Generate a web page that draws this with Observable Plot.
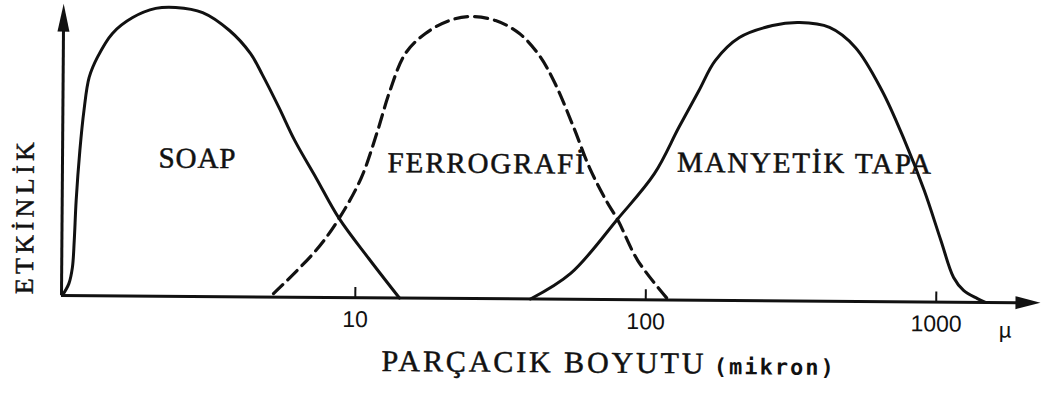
<!DOCTYPE html>
<html><head><meta charset="utf-8">
<script src="https://cdn.jsdelivr.net/npm/d3@7"></script>
<script src="https://cdn.jsdelivr.net/npm/@observablehq/plot@0.6"></script>
<style>html,body{margin:0;padding:0;background:#fff;overflow:hidden;}</style>
</head><body><div id="chart"></div>
<script>
// Particle size (micron, log scale) vs. effectiveness (%)
const soapX = [0.98, 1.032, 1.060, 1.074, 1.088, 1.117, 1.151, 1.197, 1.276, 1.436, 1.684, 2.020, 2.367, 2.932, 3.632, 4.298, 4.718, 5.397, 6.128, 7.295, 8.755, 11.10, 14.19];
const soapY = [0, 4.1, 9.6, 18.9, 32.7, 49.9, 63.6, 75.0, 81.9, 90.2, 95.7, 98.9, 99.3, 97.6, 91.5, 83.6, 76.5, 65.2, 53.9, 40.9, 27.2, 13.5, 0];

const ferroX = [5.228, 7.295, 8.755, 10.42, 11.74, 13.01, 14.65, 17.17, 20.77, 24.53, 29.91, 36.17, 42.39, 48.12, 55.94, 63.51, 72.67, 79.91, 93.66, 119.7];
const ferroY = [1.2, 16.1, 27.2, 41.3, 56.5, 71.3, 84.0, 91.0, 95.5, 96.9, 95.6, 91.2, 83.7, 74.1, 59.0, 45.3, 34.0, 27.2, 13.5, 0];

const magX = [40.1, 55.06, 79.91, 106.3, 128.6, 150.6, 171.0, 206.8, 268.7, 332.8, 422.3, 518.8, 642.7, 770.9, 903.5, 1034, 1146, 1241, 1386, 1477];
const magY = [0, 8.9, 27.9, 43.4, 59.3, 72.1, 82.4, 90.4, 94.6, 95.7, 94.1, 87.3, 72.5, 55.4, 38.3, 21.2, 8.5, 4.1, 1.3, 0];

const seriesNames = ["SOAP", "FERROGRAFİ", "MANYETİK TAPA"];
const xTicks = [10, 100, 1000];
const xTickLabels = ["10", "100", "1000"];
const yTitle = "ETKİNLİK";
const xTitle = "PARÇACIK BOYUTU";
const xUnitText = "(mikron)";
const unitSymbol = "µ";

const rows = (xs, ys, name) => xs.map((x, i) => ({x, y: ys[i], name}));
const soap = rows(soapX, soapY, seriesNames[0]);
const ferro = rows(ferroX, ferroY, seriesNames[1]);
const mag = rows(magX, magY, seriesNames[2]);

const xMin = 0.974, xMax = 2285;
const arrowRight = {draw(c) { c.moveTo(0, 0); c.lineTo(-25, -6.5); c.lineTo(-25, 6.5); c.closePath(); }};
const arrowUp = {draw(c) { c.moveTo(0, 0); c.lineTo(-6, 28); c.lineTo(6, 28); c.closePath(); }};

const serif = "Liberation Serif, Times New Roman, serif";
const ink = "#111";
const labelStyle = {fontFamily: serif, fill: ink, stroke: ink, strokeWidth: 0.5};

const chart = Plot.plot({
  width: 1041,
  height: 393,
  marginTop: 4,
  marginBottom: 98,
  marginLeft: 61,
  marginRight: 1,
  style: {background: "#fff", fontFamily: "Liberation Sans, Arial, sans-serif", fontSize: "23px", color: ink, overflow: "visible"},
  x: {type: "log", domain: [xMin, xMax], ticks: xTicks, tickFormat: (d) => xTickLabels[xTicks.indexOf(d)] ?? "", tickSize: 0, tickPadding: 13, label: null},
  y: {domain: [0, 100], axis: null},
  marks: [
    // axes
    Plot.ruleY([0], {x1: xMin, x2: 1950, stroke: ink, strokeWidth: 3}),
    Plot.ruleX([xMin], {y1: 0, y2: 95, stroke: ink, strokeWidth: 3}),
    Plot.dot([xMax], {x: (d) => d, y: 0, symbol: arrowRight, fill: ink, stroke: "none"}),
    Plot.dot([xMin], {x: (d) => d, y: 100.3, symbol: arrowUp, fill: ink, stroke: "none"}),
    Plot.ruleX(xTicks, {y1: 0, y2: 3.5, stroke: ink, strokeWidth: 2}),
    // curves
    Plot.line(soap, {x: "x", y: "y", curve: "catmull-rom", stroke: ink, strokeWidth: 3}),
    Plot.line(ferro, {x: "x", y: "y", curve: "catmull-rom", stroke: ink, strokeWidth: 3.2, strokeDasharray: "13,7"}),
    Plot.line(mag, {x: "x", y: "y", curve: "catmull-rom", stroke: ink, strokeWidth: 3}),
    // curve labels
    Plot.text([seriesNames[0]], {x: 2.83, y: 47.4, fontSize: 29, ...labelStyle}),
    Plot.text([seriesNames[1]], {x: 28.0, y: 46.4, fontSize: 29, ...labelStyle}),
    Plot.text([seriesNames[2]], {x: 347.6, y: 47.3, fontSize: 29, ...labelStyle}),
    // axis titles
    Plot.text([yTitle], {frameAnchor: "left", y: 26.5, dx: -37, rotate: -90, textAnchor: "middle", lineAnchor: "middle", fontSize: 26, ...labelStyle}),
    Plot.text([xTitle], {x: 44.3, y: -21.8, fontSize: 30, ...labelStyle}),
    Plot.text([xUnitText], {x: 277.3, y: -22.9, fontFamily: "DejaVu Sans Mono, monospace", fontWeight: 600, fontSize: 22, fill: ink}),
    Plot.text([unitSymbol], {x: 1730, y: -9.6, fontFamily: "Liberation Sans, Arial, sans-serif", fontSize: 22, fill: ink})
  ]
});

// typewriter-like spacing: spread each label over the width it spans in the original
const labelWidths = new Map([
  [seriesNames[0], 77], [seriesNames[1], 197], [seriesNames[2], 254],
  [yTitle, 152], [xTitle, 322], [xUnitText, 120]
]);
chart.querySelectorAll("text").forEach((t) => {
  const w = labelWidths.get(t.textContent);
  if (w) { t.setAttribute("textLength", w); t.setAttribute("lengthAdjust", "spacing"); }
});
// the scanned original sits slightly skewed: turn the drawing about the axis origin to match
chart.style.transformOrigin = "61px 295px";
chart.style.transform = "rotate(0.43deg)";
document.getElementById("chart").appendChild(chart);
</script>
</body></html>
